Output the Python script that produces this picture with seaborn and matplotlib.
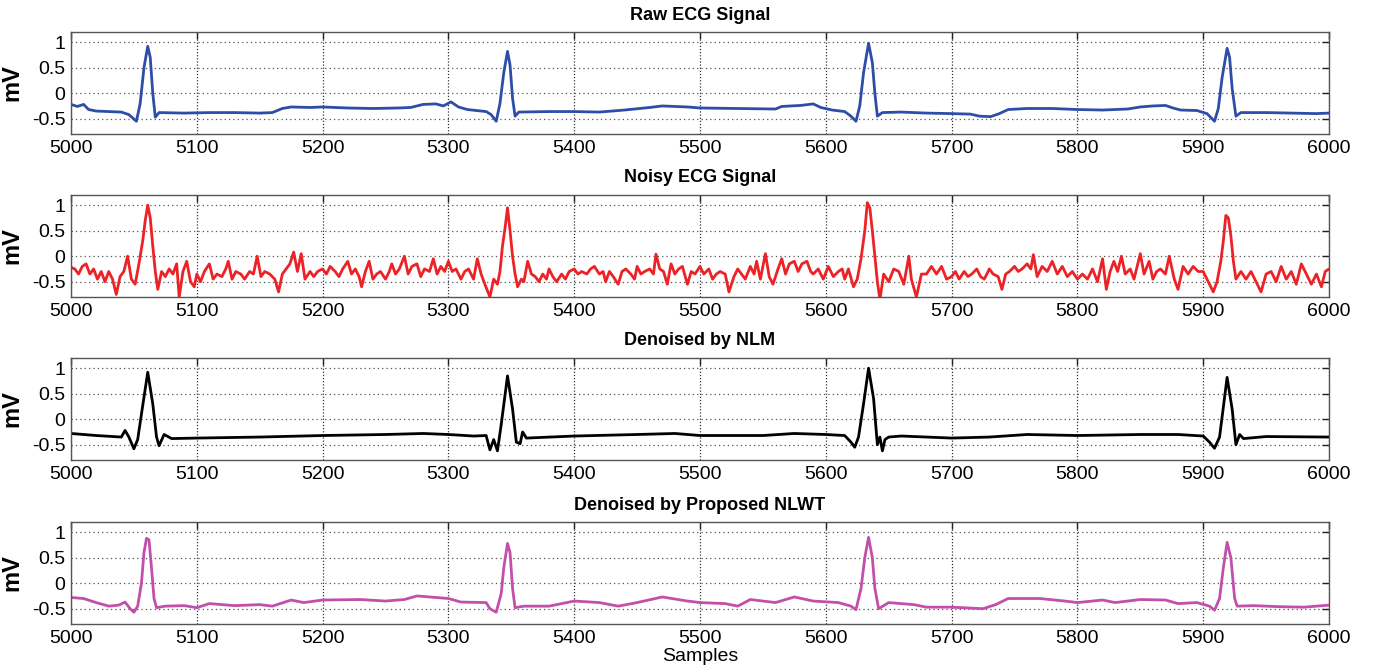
import numpy as np
import pandas as pd
import matplotlib
matplotlib.use("Agg")
import matplotlib.pyplot as plt
import seaborn as sns

# ---------------- data ----------------
raw_x = [5000, 5005, 5010, 5014, 5020, 5030, 5040, 5046, 5052, 5055, 5058, 5061, 5063, 5065, 5067,
         5070, 5090, 5110, 5130, 5150, 5160, 5168, 5175, 5190, 5200, 5220, 5240, 5260, 5270, 5280,
         5290, 5296, 5302, 5308, 5315, 5330, 5334, 5338, 5341, 5344, 5347, 5349, 5351, 5353, 5356,
         5380, 5400, 5420, 5440, 5460, 5470, 5480, 5490, 5500, 5530, 5560, 5565, 5580, 5590, 5596,
         5605, 5615, 5620, 5624, 5627, 5630, 5634, 5637, 5639, 5641, 5645, 5660, 5680, 5700, 5715,
         5722, 5731, 5738, 5745, 5760, 5780, 5800, 5820, 5840, 5850, 5860, 5870, 5876, 5882, 5895,
         5903, 5909, 5912, 5915, 5919, 5921, 5923, 5926, 5930, 5950, 5970, 5990, 6000]
raw_y = [-0.22, -0.26, -0.22, -0.32, -0.35, -0.36, -0.37, -0.42, -0.55, -0.20, 0.50, 0.92, 0.70, 0.00, -0.47,
         -0.38, -0.39, -0.38, -0.38, -0.39, -0.38, -0.30, -0.27, -0.28, -0.27, -0.29, -0.30, -0.29, -0.28, -0.22,
         -0.21, -0.25, -0.17, -0.27, -0.32, -0.36, -0.42, -0.55, -0.20, 0.40, 0.82, 0.55, -0.10, -0.45, -0.37,
         -0.36, -0.36, -0.37, -0.33, -0.28, -0.25, -0.26, -0.27, -0.29, -0.30, -0.31, -0.26, -0.24, -0.21, -0.28,
         -0.33, -0.36, -0.45, -0.55, -0.25, 0.40, 0.98, 0.60, 0.00, -0.45, -0.38, -0.37, -0.39, -0.40, -0.41,
         -0.45, -0.46, -0.40, -0.32, -0.30, -0.30, -0.32, -0.33, -0.31, -0.27, -0.25, -0.24, -0.29, -0.33, -0.34,
         -0.40, -0.55, -0.30, 0.30, 0.88, 0.70, 0.10, -0.45, -0.38, -0.38, -0.39, -0.40, -0.39]

noisy_x = [5000, 5003, 5006, 5009, 5012, 5015, 5018, 5021, 5024, 5027, 5030, 5033, 5036, 5039, 5042,
           5045, 5048, 5051, 5054, 5057, 5059, 5061, 5063, 5065, 5067, 5069, 5072, 5075, 5078, 5081,
           5084, 5086, 5089, 5092, 5095, 5098, 5100, 5103, 5106, 5110, 5113, 5116, 5120, 5123, 5125,
           5128, 5131, 5135, 5138, 5142, 5145, 5148, 5151, 5154, 5158, 5162, 5165, 5168, 5171, 5174,
           5177, 5180, 5183, 5186, 5190, 5193, 5196, 5200, 5203, 5206, 5210, 5213, 5216, 5220, 5223,
           5226, 5229, 5231, 5234, 5237, 5240, 5243, 5246, 5250, 5253, 5255, 5258, 5261, 5265, 5268,
           5271, 5275, 5278, 5281, 5285, 5288, 5291, 5294, 5297, 5300, 5303, 5306, 5310, 5313, 5316,
           5320, 5323, 5326, 5329, 5333, 5336, 5339, 5341, 5343, 5345, 5347, 5349, 5351, 5353, 5355,
           5358, 5360, 5363, 5366, 5369, 5372, 5375, 5378, 5380, 5383, 5386, 5390, 5393, 5396, 5400,
           5403, 5406, 5410, 5413, 5416, 5420, 5423, 5425, 5428, 5431, 5435, 5438, 5441, 5445, 5448,
           5450, 5453, 5456, 5460, 5463, 5465, 5468, 5471, 5474, 5477, 5480, 5483, 5486, 5490, 5493,
           5496, 5500, 5503, 5507, 5510, 5513, 5516, 5520, 5523, 5527, 5530, 5533, 5536, 5540, 5543,
           5545, 5548, 5552, 5555, 5558, 5562, 5565, 5568, 5571, 5575, 5578, 5581, 5585, 5588, 5590,
           5594, 5598, 5602, 5606, 5610, 5613, 5615, 5618, 5622, 5625, 5628, 5631, 5633, 5635, 5637,
           5639, 5641, 5643, 5646, 5650, 5654, 5658, 5662, 5666, 5668, 5672, 5676, 5680, 5684, 5688,
           5692, 5696, 5700, 5703, 5706, 5710, 5713, 5716, 5720, 5723, 5726, 5730, 5733, 5737, 5740,
           5743, 5746, 5750, 5753, 5756, 5760, 5763, 5765, 5768, 5772, 5776, 5780, 5784, 5788, 5792,
           5796, 5800, 5804, 5808, 5812, 5816, 5820, 5823, 5826, 5829, 5832, 5835, 5838, 5842, 5845,
           5850, 5853, 5857, 5860, 5863, 5866, 5870, 5873, 5877, 5880, 5884, 5888, 5892, 5896, 5900,
           5904, 5908, 5911, 5914, 5916, 5918, 5920, 5922, 5924, 5926, 5930, 5934, 5938, 5942, 5946,
           5950, 5954, 5958, 5962, 5966, 5970, 5974, 5978, 5982, 5986, 5990, 5994, 5997, 6000]
noisy_y = [-0.22, -0.25, -0.35, -0.20, -0.15, -0.35, -0.25, -0.45, -0.30, -0.50, -0.30, -0.45, -0.75, -0.40, -0.30,
           0.00, -0.45, -0.55, -0.15, 0.30, 0.70, 1.00, 0.75, 0.20, -0.30, -0.65, -0.30, -0.40, -0.25, -0.35,
           -0.15, -0.80, -0.30, -0.10, -0.50, -0.60, -0.35, -0.50, -0.30, -0.15, -0.45, -0.35, -0.40, -0.25, -0.10,
           -0.45, -0.30, -0.35, -0.45, -0.30, -0.35, 0.00, -0.40, -0.30, -0.35, -0.45, -0.70, -0.35, -0.25, -0.15,
           0.08, -0.30, 0.05, -0.45, -0.30, -0.40, -0.30, -0.25, -0.35, -0.20, -0.30, -0.40, -0.25, -0.10, -0.35,
           -0.25, -0.40, -0.60, -0.30, -0.10, -0.45, -0.35, -0.30, -0.45, -0.30, -0.15, -0.35, -0.25, 0.00, -0.35,
           -0.20, -0.15, -0.40, -0.25, -0.30, -0.05, -0.35, -0.20, -0.30, -0.10, -0.30, -0.25, -0.45, -0.30, -0.25,
           -0.45, -0.05, -0.35, -0.55, -0.80, -0.45, -0.55, -0.30, 0.20, 0.55, 0.95, 0.50, 0.00, -0.35, -0.60,
           -0.45, -0.50, -0.10, -0.35, -0.40, -0.50, -0.35, -0.45, -0.25, -0.40, -0.50, -0.35, -0.45, -0.30, -0.25,
           -0.35, -0.30, -0.35, -0.25, -0.20, -0.35, -0.30, -0.50, -0.30, -0.40, -0.55, -0.30, -0.25, -0.35, -0.45,
           -0.20, -0.35, -0.30, -0.25, -0.35, 0.04, -0.25, -0.30, -0.55, -0.15, -0.35, -0.25, -0.20, -0.55, -0.30,
           -0.35, -0.20, -0.35, -0.25, -0.45, -0.35, -0.30, -0.35, -0.70, -0.40, -0.25, -0.35, -0.45, -0.20, -0.35,
           -0.10, -0.45, 0.05, -0.40, -0.55, -0.25, -0.05, -0.35, -0.15, -0.10, -0.30, -0.15, -0.10, -0.30, -0.35,
           -0.25, -0.45, -0.20, -0.40, -0.30, -0.25, -0.45, -0.25, -0.60, -0.45, -0.05, 0.50, 1.05, 0.95, 0.50,
           0.00, -0.50, -0.85, -0.35, -0.50, -0.25, -0.30, -0.55, 0.00, -0.45, -0.80, -0.35, -0.35, -0.20, -0.35,
           -0.20, -0.45, -0.40, -0.30, -0.45, -0.30, -0.40, -0.35, -0.25, -0.40, -0.45, -0.25, -0.35, -0.40, -0.65,
           -0.35, -0.30, -0.20, -0.30, -0.25, -0.15, -0.25, 0.03, -0.40, -0.20, -0.30, -0.10, -0.35, -0.20, -0.40,
           -0.30, -0.45, -0.35, -0.45, -0.25, -0.50, -0.05, -0.65, -0.30, -0.10, -0.30, 0.00, -0.35, -0.25, -0.45,
           0.05, -0.35, -0.10, -0.45, -0.30, -0.25, -0.35, 0.00, -0.45, -0.65, -0.20, -0.35, -0.20, -0.30, -0.30,
           -0.50, -0.70, -0.50, -0.10, 0.30, 0.80, 0.75, 0.40, -0.10, -0.45, -0.30, -0.45, -0.30, -0.50, -0.70,
           -0.35, -0.30, -0.50, -0.20, -0.45, -0.30, -0.55, -0.15, -0.35, -0.55, -0.35, -0.60, -0.30, -0.25]

nlm_x = [5000, 5020, 5040, 5043, 5046, 5050, 5053, 5056, 5061, 5065, 5068, 5070, 5074, 5080, 5100,
         5150, 5200, 5250, 5280, 5300, 5320, 5330, 5333, 5336, 5339, 5342, 5347, 5351, 5354, 5357,
         5359, 5362, 5400, 5450, 5480, 5500, 5550, 5575, 5600, 5615, 5620, 5623, 5626, 5630, 5634,
         5638, 5641, 5643, 5645, 5647, 5650, 5660, 5700, 5730, 5760, 5800, 5850, 5880, 5900, 5905,
         5909, 5913, 5919, 5923, 5926, 5929, 5932, 5950, 6000]
nlm_y = [-0.28, -0.32, -0.35, -0.22, -0.35, -0.58, -0.40, 0.10, 0.92, 0.30, -0.35, -0.52, -0.30, -0.38, -0.37,
         -0.35, -0.32, -0.30, -0.28, -0.30, -0.33, -0.32, -0.60, -0.40, -0.62, -0.10, 0.85, 0.20, -0.45, -0.48,
         -0.25, -0.37, -0.33, -0.30, -0.28, -0.32, -0.32, -0.28, -0.30, -0.32, -0.45, -0.55, -0.35, 0.30, 1.00,
         0.40, -0.50, -0.35, -0.62, -0.40, -0.35, -0.33, -0.37, -0.35, -0.30, -0.32, -0.30, -0.30, -0.33, -0.45,
         -0.57, -0.35, 0.82, 0.20, -0.50, -0.30, -0.38, -0.34, -0.35]

nlwt_x = [5000, 5010, 5020, 5030, 5038, 5043, 5047, 5050, 5053, 5056, 5058, 5060, 5062, 5064, 5066,
          5068, 5075, 5090, 5100, 5110, 5130, 5150, 5160, 5175, 5185, 5200, 5230, 5250, 5265, 5275,
          5290, 5300, 5310, 5330, 5333, 5338, 5342, 5344, 5347, 5349, 5351, 5353, 5360, 5380, 5400,
          5420, 5435, 5450, 5470, 5490, 5500, 5520, 5530, 5540, 5560, 5575, 5590, 5610, 5620, 5624,
          5628, 5631, 5634, 5637, 5639, 5642, 5650, 5670, 5680, 5700, 5725, 5735, 5745, 5770, 5790,
          5800, 5820, 5830, 5850, 5870, 5880, 5895, 5905, 5909, 5913, 5916, 5919, 5922, 5925, 5927,
          5940, 5960, 5980, 5990, 6000]
nlwt_y = [-0.28, -0.30, -0.38, -0.45, -0.43, -0.37, -0.50, -0.57, -0.45, 0.00, 0.60, 0.88, 0.85, 0.30, -0.30,
          -0.48, -0.45, -0.44, -0.48, -0.40, -0.44, -0.42, -0.45, -0.33, -0.38, -0.33, -0.32, -0.35, -0.32, -0.25,
          -0.28, -0.30, -0.37, -0.38, -0.50, -0.57, -0.20, 0.30, 0.78, 0.60, -0.10, -0.48, -0.45, -0.45, -0.35,
          -0.38, -0.45, -0.38, -0.27, -0.35, -0.38, -0.40, -0.45, -0.32, -0.38, -0.27, -0.35, -0.38, -0.45, -0.52,
          -0.10, 0.50, 0.90, 0.50, -0.10, -0.50, -0.38, -0.42, -0.47, -0.47, -0.50, -0.42, -0.30, -0.30, -0.35,
          -0.38, -0.33, -0.38, -0.32, -0.33, -0.40, -0.38, -0.45, -0.53, -0.30, 0.30, 0.80, 0.50, -0.30, -0.45,
          -0.44, -0.46, -0.47, -0.45, -0.43]

titles = ["Raw ECG Signal", "Noisy ECG Signal", "Denoised by NLM", "Denoised by Proposed NLWT"]
colors = ["#2E4DA7", "#EC2227", "#000000", "#C24FA9"]
x_ticks = [5000, 5100, 5200, 5300, 5400, 5500, 5600, 5700, 5800, 5900, 6000]
y_ticks = [-0.5, 0, 0.5, 1]
y_ticklabels = ["-0.5", "0", "0.5", "1"]
xs = [raw_x, noisy_x, nlm_x, nlwt_x]
ys = [raw_y, noisy_y, nlm_y, nlwt_y]

# ---------------- figure ----------------
sns.set_style("white")
plt.rcParams['font.family'] = ['Liberation Sans', 'DejaVu Sans']
plt.rcParams['text.color'] = 'black'
plt.rcParams['axes.labelcolor'] = 'black'
plt.rcParams['xtick.color'] = 'black'
plt.rcParams['ytick.color'] = 'black'

fig = plt.figure(figsize=(13.75, 6.69), dpi=100)
W, H = 1375, 669
left = 71 / W
width = (1329 - 71) / W
tops_px = [32, 195, 358, 522]
ax_h_px = 102

for i in range(4):
    top = tops_px[i]
    ax = fig.add_axes([left, 1 - (top + ax_h_px) / H, width, ax_h_px / H])
    df = pd.DataFrame({"Samples": xs[i], "mV": ys[i]})
    sns.lineplot(data=df, x="Samples", y="mV", ax=ax, color=colors[i],
                 linewidth=2.0, estimator=None, sort=False)
    ax.set_xlim(5000, 6000)
    ax.set_ylim(-0.8, 1.2)
    ax.set_xticks(x_ticks)
    ax.set_xticklabels([str(t) for t in x_ticks])
    ax.set_yticks(y_ticks)
    ax.set_yticklabels(y_ticklabels)
    ax.tick_params(direction='in', top=True, right=True, labelsize=14,
                   length=5, width=1, color='#222222', labelcolor='black', pad=4)
    ax.grid(True, axis='x', color='#333333', linestyle=(0, (1, 1.5)), linewidth=0.9)
    ax.grid(True, axis='y', color='#555555', linestyle=(0, (1, 2.5)), linewidth=0.9)
    for s in ax.spines.values():
        s.set_color('#555555')
        s.set_linewidth(1.0)
    ax.set_title(titles[i], fontsize=13, fontweight='bold', pad=9, color='black')
    ax.set_ylabel("mV", fontsize=17, fontweight='bold', labelpad=6, color='black')
    if i == 3:
        ax.set_xlabel("Samples", fontsize=14, labelpad=1, color='black')
    else:
        ax.set_xlabel("")

fig.savefig("out.png", dpi=100)
